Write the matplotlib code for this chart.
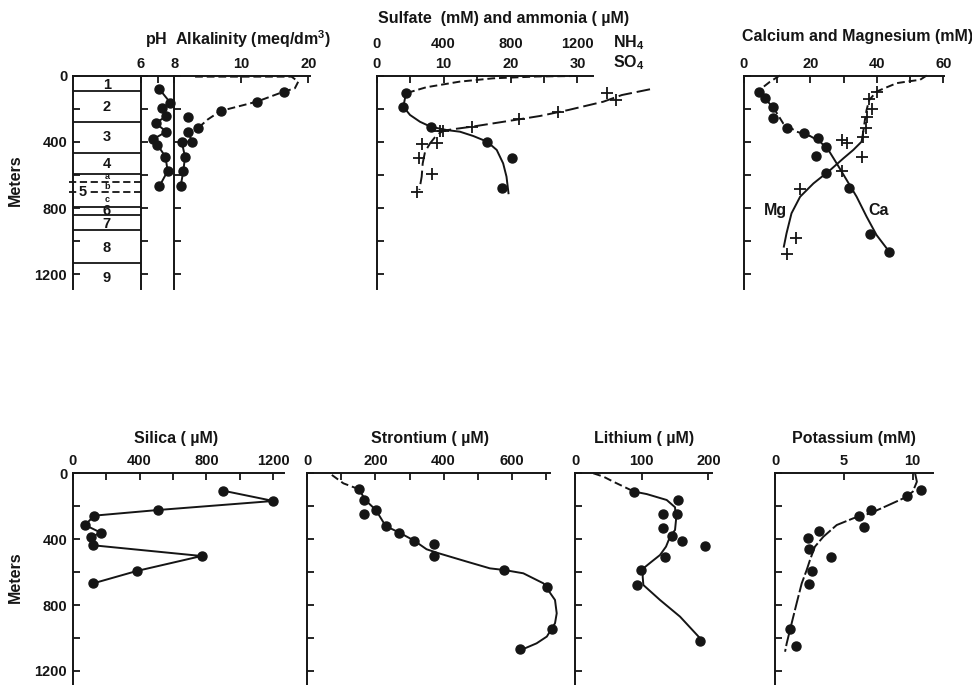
import matplotlib
matplotlib.use("Agg")
import matplotlib.pyplot as plt

W, H = 972, 685
INK = '#151515'
TITLE = 11.5

# --- lithologic units (m) ---
unit_bounds = [92, 278, 465, 594, 795, 841, 932, 1133]
sub_bounds = [640, 700]
unit_names = ['1', '2', '3', '4', '6', '7', '8', '9']
unit_mid = [57, 188, 369, 534, 815, 895, 1042, 1223]
sub_names = ['a', 'b', 'c']
sub_mid = [612, 672, 745]

# --- pH and alkalinity ---
ph_depth = [83, 164, 198, 244, 288, 339, 383, 419, 490, 576, 667]
ph_val = [7.11, 7.76, 7.25, 7.52, 6.89, 7.52, 6.75, 6.99, 7.47, 7.6, 7.11]

alk_depth = [98, 158, 214, 252, 315, 339, 399, 399, 490, 576, 667]
alk_val = [16.3, 12.3, 6.9, 2.1, 3.6, 2.0, 2.7, 1.1, 1.6, 1.35, 0.95]
alk_dash_depth = [7, 7, 37, 77, 98, 158, 214, 265, 315]
alk_dash_val = [3.1, 17.5, 18.5, 18.0, 16.3, 12.3, 6.9, 5.0, 3.6]
alk_line_depth = [339, 399, 399, 490, 576, 667]
alk_line_val = [2.0, 2.7, 1.1, 1.6, 1.35, 0.95]

# --- sulfate (mM) and ammonia (uM) ---
so4_depth = [107, 188, 309, 399, 496, 680]
so4_val = [4.38, 3.98, 8.07, 16.5, 20.2, 18.7]
so4_dash_depth = [3, 6, 17, 37, 71, 107]
so4_dash_val = [29.9, 24.0, 17.4, 12.4, 7.4, 4.38]
so4_line_depth = [107, 188, 238, 279, 309, 329, 339, 365, 399, 449, 530, 610, 710]
so4_line_val = [4.38, 3.98, 4.98, 6.47, 8.07, 10.46, 12.45, 14.44, 16.5, 17.94, 18.9, 19.4, 19.7]

nh4_depth = [107, 148, 218, 264, 309, 333, 333, 405, 415, 499, 596, 700]
nh4_val = [1375, 1431, 1086, 853, 568, 398, 378, 359, 269, 255, 329, 243]
nh4_line_depth = [83, 118, 158, 208, 244, 264, 309, 322, 333, 359, 409, 460, 530, 610, 690]
nh4_line_val = [1634, 1465, 1355, 1146, 977, 853, 568, 470, 398, 359, 319, 289, 275, 269, 255]

# --- calcium and magnesium (mM) ---
ca_depth = [97, 138, 188, 258, 315, 349, 379, 429, 485, 586, 677, 958, 1066]
ca_val = [4.6, 6.3, 8.6, 8.6, 12.8, 18.2, 22.2, 24.6, 21.6, 24.6, 31.6, 37.9, 43.7]
ca_dash_depth = [0, 38, 85, 148, 208, 289, 339, 365]
ca_dash_val = [10.8, 7.8, 4.8, 6.8, 9.3, 11.8, 15.9, 19.9]
ca_line_depth = [365, 399, 449, 530, 630, 731, 851, 962, 1062]
ca_line_val = [19.9, 22.9, 25.4, 27.9, 30.9, 33.9, 36.9, 39.9, 43.7]

mg_depth = [97, 144, 204, 252, 315, 369, 389, 409, 494, 575, 685, 983, 1078]
mg_val = [39.9, 37.7, 38.4, 36.9, 36.7, 35.7, 29.4, 30.9, 35.4, 29.4, 16.9, 15.7, 12.8]
mg_dash_depth = [0, 26, 34, 46, 80, 97, 148, 208, 268, 339]
mg_dash_val = [55.0, 53.0, 50.0, 46.0, 41.9, 39.9, 37.7, 36.9, 36.4, 35.9]
mg_line_depth = [339, 399, 449, 500, 571, 651, 731, 831, 952, 1032]
mg_line_val = [35.9, 35.4, 32.9, 29.9, 25.9, 20.9, 16.9, 14.3, 12.8, 12.0]

# --- silica (uM) ---
si_depth = [105, 168, 223, 257, 314, 360, 389, 437, 502, 593, 668]
si_val = [897, 1200, 508, 129, 74, 167, 108, 123, 771, 383, 123]

# --- strontium (uM) ---
sr_depth = [97, 162, 222, 249, 320, 360, 409, 427, 502, 587, 688, 947, 1068]
sr_val = [152, 165, 201, 165, 230, 270, 314, 372, 372, 578, 703, 717, 624]
sr_dash_depth = [10, 61, 97, 162]
sr_dash_val = [72, 106, 152, 170]
sr_line_depth = [162, 222, 320, 360, 409, 461, 485, 536, 577, 587, 607, 668, 769, 850, 910, 991, 1032, 1062]
sr_line_val = [170, 201, 230, 270, 314, 350, 385, 468, 536, 578, 634, 693, 727, 732, 727, 703, 673, 639]

# --- lithium (uM) ---
li_depth = [111, 162, 247, 247, 334, 380, 409, 441, 510, 587, 678, 1018]
li_val = [88.5, 155, 132.5, 152.5, 132.5, 145, 160, 195, 135, 98.5, 92.5, 187.5]
li_dash_depth = [0, 20, 51, 111]
li_dash_val = [27.5, 42.5, 57.5, 88.5]
li_line_depth = [111, 126, 162, 206, 283, 344, 385, 445, 496, 536, 577, 627, 678, 769, 870, 1001]
li_line_val = [88.5, 107.5, 137.5, 150, 151.5, 150, 142.5, 136.5, 127.5, 115, 102.5, 101.5, 102.5, 127.5, 157.5, 187.5]

# --- potassium (mM) ---
k_depth = [101, 136, 223, 257, 324, 348, 395, 461, 506, 591, 674, 945, 1048]
k_val = [10.6, 9.56, 6.97, 6.13, 6.46, 3.22, 2.42, 2.47, 4.04, 2.66, 2.49, 1.09, 1.53]
k_line_depth = [0, 51, 112, 152, 198, 243, 273, 314, 385, 445, 526, 587, 668, 789, 910, 1032, 1083]
k_line_val = [10.17, 10.3, 10.0, 9.32, 8.11, 6.9, 5.69, 4.48, 3.51, 2.9, 2.54, 2.3, 1.94, 1.57, 1.21, 0.85, 0.73]

plt.rcParams['font.family'] = ['Liberation Sans', 'DejaVu Sans']
plt.rcParams['font.weight'] = 'bold'
plt.rcParams['font.size'] = 10
plt.rcParams['mathtext.fontset'] = 'custom'
plt.rcParams['mathtext.rm'] = 'Liberation Sans:bold'
plt.rcParams['text.color'] = INK
plt.rcParams['xtick.color'] = INK
plt.rcParams['ytick.color'] = INK

fig = plt.figure(figsize=(W / 100, H / 100), dpi=100)

TOP1, BOT1, DMAX1 = 75.5, 289.4, 1290
TOP2, BOT2, DMAX2 = 473.3, 685, 1285

DOT = dict(marker='o', ms=6.5, color=INK, ls='none', clip_on=False, zorder=4)
PLUS = dict(marker='+', ms=8.5, mew=1.3, color=INK, ls='none', clip_on=False, zorder=4)
SOLID = dict(color=INK, lw=1.4, clip_on=False)
DASH = dict(color=INK, lw=1.4, ls=(0, (4, 2)), clip_on=False)


def panel(left, right, top, bottom, xlim, dmax):
    ax = fig.add_axes([left / W, 1 - bottom / H, (right - left) / W, (bottom - top) / H])
    ax.patch.set_visible(False)
    ax.set_xlim(*xlim)
    ax.set_ylim(dmax, 0)
    ax.spines[['right', 'bottom']].set_visible(False)
    for s in ('left', 'top'):
        ax.spines[s].set_linewidth(1.4)
        ax.spines[s].set_color(INK)
    ax.xaxis.tick_top()
    ax.tick_params(which='both', direction='in', length=5, width=1.3, pad=3.5, labelsize=10.5)
    ax.set_yticks(range(0, 1201, 200))
    ax.set_yticklabels([])
    return ax


def depth_labels(ax):
    ax.set_yticks([0, 400, 800, 1200])
    ax.set_yticklabels(['0', '400', '800', '1200'])
    ax.set_yticks([200, 600, 1000], minor=True)
    ax.tick_params(axis='y', which='both', pad=4)


# ---------------- top row ----------------
ax_lith = panel(72.7, 141, TOP1, BOT1, (0, 1), DMAX1)
depth_labels(ax_lith)
ax_lith.set_xticks([])
ax_lith.hlines(unit_bounds, 0, 1, color=INK, lw=1.3)
ax_lith.hlines(sub_bounds, -0.05, 1, color=INK, lw=1.3, linestyles=(0, (4, 2)), clip_on=False)
for name, d in zip(unit_names, unit_mid):
    ax_lith.text(0.5, d, name, ha='center', va='center', fontsize=10.5)
for name, d in zip(sub_names, sub_mid):
    ax_lith.text(0.5, d, name, ha='center', va='center', fontsize=6.5)
ax_lith.text(0.15, 700, '5', ha='center', va='center', fontsize=10.5,
             bbox=dict(fc='white', ec='none', pad=0.5))

ax_ph = panel(141, 174.3, TOP1, BOT1, (6, 8), DMAX1)
ax_ph.set_xticks([6, 7, 8])
ax_ph.set_xticklabels(['6', '', '8'])
ax_ph.plot(ph_val, ph_depth, **SOLID)
ax_ph.plot(ph_val, ph_depth, **DOT)

ax_alk = panel(174.3, 310.3, TOP1, BOT1, (0, 20.3), DMAX1)
ax_alk.set_xticks([10, 20])
ax_alk.plot(alk_dash_val, alk_dash_depth, **DASH)
ax_alk.plot(alk_line_val, alk_line_depth, **SOLID)
ax_alk.plot(alk_val, alk_depth, **DOT)
fig.text(145 / W, 1 - 39 / H, 'pH  Alkalinity (meq/dm$^3$)', ha='left', va='center', fontsize=TITLE)

ax_s = panel(376.7, 592.8, TOP1, BOT1, (0, 32.3), DMAX1)
ax_s.set_xticks([0, 10, 20, 30])
ax_s.set_xticks([5, 15, 25], minor=True)
ax_s.plot(so4_dash_val, so4_dash_depth, **DASH)
ax_s.plot(so4_line_val, so4_line_depth, **SOLID)
ax_s.plot(so4_val, so4_depth, **DOT)

ax_n = fig.add_axes(ax_s.get_position())
ax_n.patch.set_visible(False)
ax_n.set_xlim(0, 32.3 * 40)
ax_n.set_ylim(DMAX1, 0)
for s in ax_n.spines.values():
    s.set_visible(False)
ax_n.xaxis.tick_top()
ax_n.set_xticks([0, 400, 800, 1200])
ax_n.set_yticks([])
ax_n.tick_params(axis='x', length=0, pad=18, labelsize=10.5)
ax_n.plot(nh4_line_val, nh4_line_depth, color=INK, lw=1.4, ls=(0, (7, 2.5)), clip_on=False)
ax_n.plot(nh4_val, nh4_depth, **PLUS)
fig.text(613 / W, 1 - 43 / H, 'NH$_4$', ha='left', va='center', fontsize=TITLE)
fig.text(613 / W, 1 - 63 / H, 'SO$_4$', ha='left', va='center', fontsize=TITLE)
fig.text(377.7 / W, 1 - 19 / H, 'Sulfate  (mM) and ammonia ( \u00b5M)', ha='left', va='center', fontsize=TITLE)

ax_c = panel(744, 944.3, TOP1, BOT1, (0, 60.3), DMAX1)
ax_c.set_xticks([0, 20, 40, 60])
ax_c.set_xticks([10, 30, 50], minor=True)
ax_c.plot(ca_dash_val, ca_dash_depth, **DASH)
ax_c.plot(ca_line_val, ca_line_depth, **SOLID)
ax_c.plot(ca_val, ca_depth, **DOT)
ax_c.plot(mg_dash_val, mg_dash_depth, **DASH)
ax_c.plot(mg_line_val, mg_line_depth, **SOLID)
ax_c.plot(mg_val, mg_depth, **PLUS)
ax_c.text(9.5, 815, 'Mg', ha='center', va='center', fontsize=TITLE)
ax_c.text(40.5, 815, 'Ca', ha='center', va='center', fontsize=TITLE)
fig.text(741.7 / W, 1 - 37 / H, 'Calcium and Magnesium (mM)', ha='left', va='center', fontsize=TITLE)

fig.text(15 / W, 1 - 180 / H, 'Meters', rotation=90, ha='center', va='center', fontsize=TITLE)

# ---------------- bottom row ----------------
ax_si = panel(72.7, 284.2, TOP2, BOT2, (0, 1265), DMAX2)
depth_labels(ax_si)
ax_si.set_xticks([0, 400, 800, 1200])
ax_si.set_xticks([200, 600, 1000], minor=True)
ax_si.plot(si_val, si_depth, **SOLID)
ax_si.plot(si_val, si_depth, **DOT)
fig.text(176 / W, 1 - 438 / H, 'Silica ( \u00b5M)', ha='center', va='center', fontsize=TITLE)

ax_sr = panel(307.3, 549.9, TOP2, BOT2, (0, 712), DMAX2)
ax_sr.set_xticks([0, 200, 400, 600])
ax_sr.set_xticks([100, 300, 500, 700], minor=True)
ax_sr.plot(sr_dash_val, sr_dash_depth, **DASH)
ax_sr.plot(sr_line_val, sr_line_depth, **SOLID)
ax_sr.plot(sr_val, sr_depth, **DOT)
fig.text(430 / W, 1 - 438 / H, 'Strontium ( \u00b5M)', ha='center', va='center', fontsize=TITLE)

ax_li = panel(575, 711.7, TOP2, BOT2, (0, 205), DMAX2)
ax_li.set_xticks([0, 100, 200])
ax_li.plot(li_dash_val, li_dash_depth, **DASH)
ax_li.plot(li_line_val, li_line_depth, **SOLID)
ax_li.plot(li_val, li_depth, **DOT)
fig.text(644 / W, 1 - 438 / H, 'Lithium ( \u00b5M)', ha='center', va='center', fontsize=TITLE)

ax_k = panel(775, 933.4, TOP2, BOT2, (0, 11.5), DMAX2)
ax_k.set_xticks([0, 5, 10])
ax_k.plot(k_line_val, k_line_depth, color=INK, lw=1.4, ls=(0, (8, 1.5)), clip_on=False)
ax_k.plot(k_val, k_depth, **DOT)
fig.text(854 / W, 1 - 438 / H, 'Potassium (mM)', ha='center', va='center', fontsize=TITLE)

fig.text(15 / W, 1 - 577 / H, 'Meters', rotation=90, ha='center', va='center', fontsize=TITLE)

fig.savefig('out.png', dpi=100)
